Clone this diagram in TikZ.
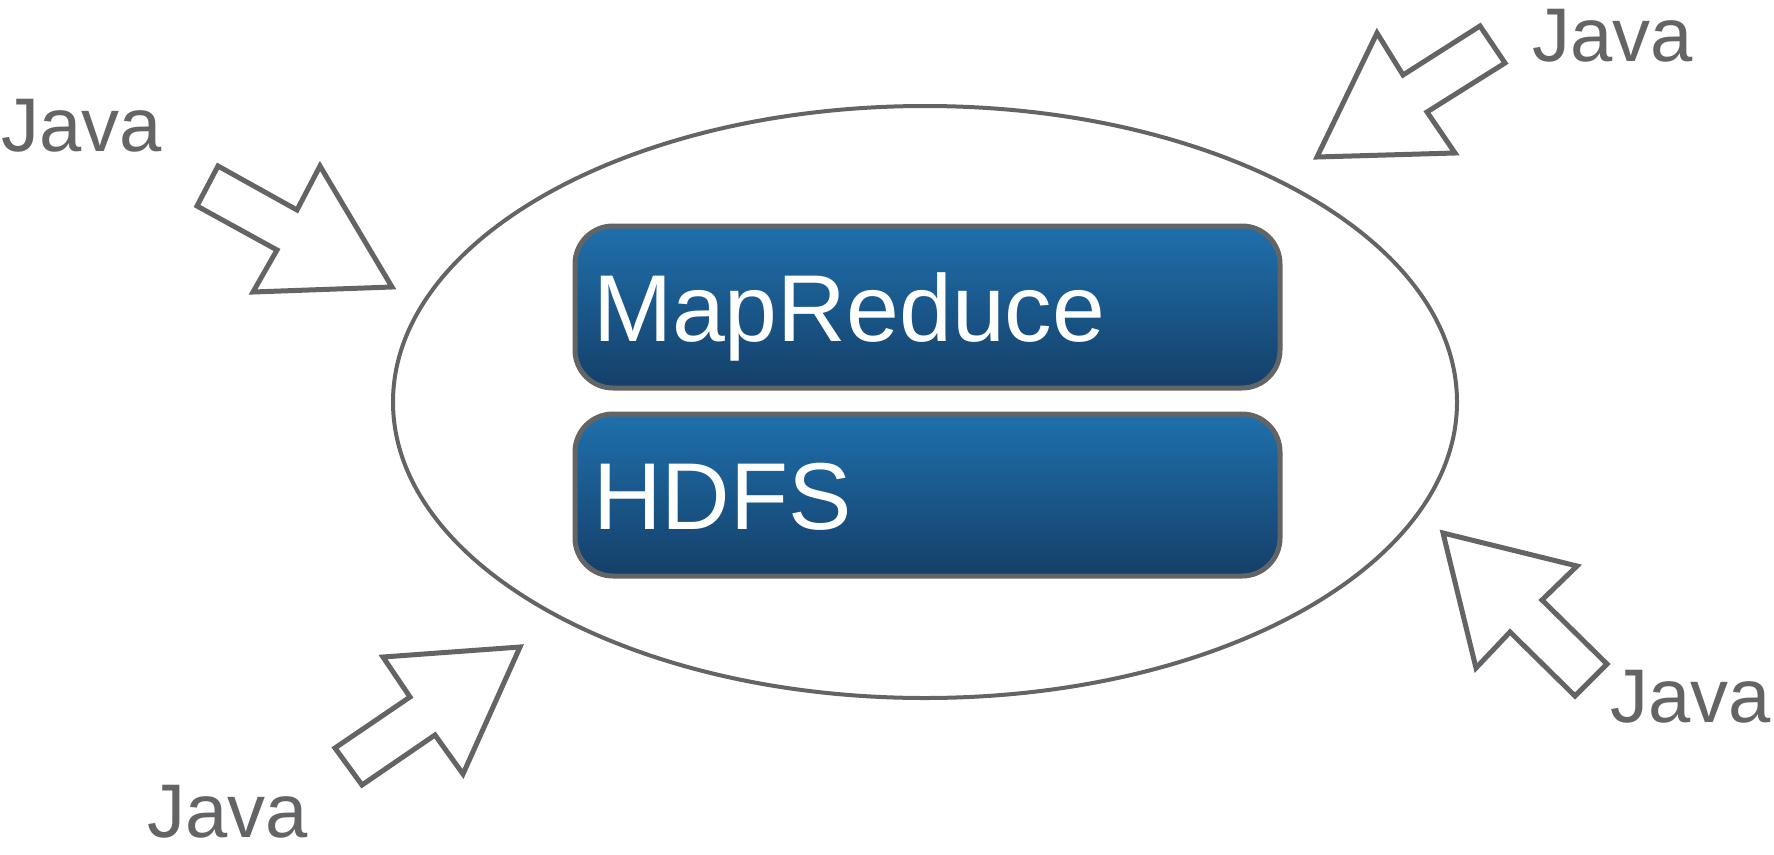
\documentclass[tikz,border=0pt]{standalone}
\usepackage{fontspec}
\setmainfont{Liberation Sans}
\usetikzlibrary{shapes.geometric}
\definecolor{edgegray}{RGB}{99,100,102}
\definecolor{blueTop}{RGB}{31,112,173}
\definecolor{blueBot}{RGB}{20,63,104}
\tikzset{
  layer/.style={draw=edgegray, line width=5pt, rounded corners=38pt,
    top color=blueTop, bottom color=blueBot, text=white,
    minimum width=705pt, minimum height=162pt, text width=669pt,
    inner xsep=18pt, inner ysep=0pt, align=left,
    font=\fontsize{95pt}{95pt}\selectfont, text height=68pt, text depth=0pt},
  javalabel/.style={text=edgegray, inner sep=0pt, anchor=base west,
    text depth=0pt, font=\fontsize{76pt}{76pt}\selectfont},
  blockarrow/.style={draw=edgegray, fill=white, line width=5pt, line join=miter}
}
\begin{document}
\begin{tikzpicture}[x=1pt, y=-1pt]
\useasboundingbox (0,0) rectangle (1774,854);

% the cluster
\node[ellipse, draw=edgegray, line width=4pt, inner sep=0pt,
      minimum width=1064pt, minimum height=592pt] (cluster) at (925,402) {};

% software stack
\node[layer] (mapreduce) at (927.5,307) {MapReduce};
\node[layer] (hdfs) at (927.5,495) {HDFS};

% block arrows pointing at the cluster
\draw[blockarrow] (218,166) -- (297,210) -- (320,166) -- (392,287)
  -- (253,292) -- (277,250) -- (197,206) -- cycle;
\draw[blockarrow] (1480,26) -- (1505,63) -- (1427,112) -- (1455,153)
  -- (1317,157) -- (1377,33) -- (1403,75) -- cycle;
\draw[blockarrow] (1443,533) -- (1577,566) -- (1542,600) -- (1607,664)
  -- (1575,696) -- (1510,632) -- (1476,668) -- cycle;
\draw[blockarrow] (520,647) -- (383,657) -- (410,697) -- (335,748)
  -- (362,785) -- (435,735) -- (463,774) -- cycle;

% client labels
\node[javalabel] (javaNW) at (1,151) {Java};
\node[javalabel] (javaNE) at (1532,61) {Java};
\node[javalabel] (javaSE) at (1610,722) {Java};
\node[javalabel] (javaSW) at (147,837) {Java};
\end{tikzpicture}
\end{document}
